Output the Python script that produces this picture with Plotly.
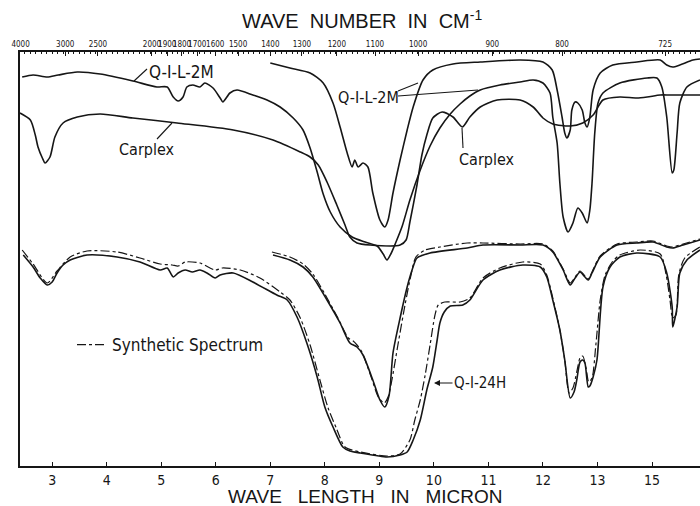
import plotly.graph_objects as go

# ---- spectra: wavelength (micron) vs. transmittance (chart units) ----
qil_thick_wl = [2.45, 2.65, 2.91, 3.11, 3.46, 3.88, 4.48, 4.92, 5.11, 5.22, 5.31, 5.40, 5.47, 5.58, 5.71, 5.80,
                5.95, 6.08, 6.13, 6.26, 6.39, 6.68, 6.94, 7.18, 7.42, 7.60, 7.73, 7.86, 7.97, 8.10, 8.28, 8.50,
                8.74, 8.96, 9.07, 9.14, 9.21, 9.29, 9.42, 9.56, 9.75, 9.93, 10.11, 10.30, 10.48, 10.66, 10.85,
                11.21, 11.58, 11.82, 12.00, 12.13, 12.18, 12.26, 12.31, 12.37, 12.46, 12.55, 12.64, 12.72, 12.81,
                12.86, 12.90, 12.95, 13.01, 13.10, 13.41, 13.91, 14.09, 14.18, 14.27, 14.37, 14.40, 14.46, 14.51,
                14.64, 14.88]
qil_thick_t = [97.25, 97.75, 97.25, 97.75, 98.5, 98.0, 96.25, 94.75, 94.75, 92.25, 91.25, 92.25, 94.75, 95.25, 94.75,
               95.75, 94.5, 92.0, 91.0, 93.25, 94.0, 92.75, 91.5, 89.75, 87.0, 84.0, 79.5, 73.5, 68.0, 63.5, 59.75,
               57.25, 56.0, 55.0, 53.0, 51.5, 53.0, 55.5, 60.0, 66.5, 74.0, 80.0, 84.5, 88.0, 90.5, 92.5, 94.0,
               95.25, 96.0, 96.5, 95.75, 93.25, 87.25, 80.75, 70.75, 62.25, 58.5, 60.75, 64.5, 63.25, 60.75,
               64.0, 70.75, 83.25, 90.75, 93.25, 95.75, 97.0, 97.0, 94.75, 87.25, 73.25, 74.0, 83.25, 90.75,
               94.75, 96.5]

qil_thin_wl = [7.00, 7.36, 7.73, 7.97, 8.15, 8.28, 8.41, 8.50, 8.55, 8.61, 8.70, 8.79, 8.88, 9.01, 9.10, 9.16,
               9.25, 9.38, 9.51, 9.62, 9.80, 9.98, 10.35, 10.85, 11.58, 12.00, 12.17, 12.26, 12.35, 12.40, 12.44,
               12.50, 12.53, 12.59, 12.64, 12.72, 12.77, 12.81, 12.86, 12.92, 13.05, 13.28, 13.72, 14.15, 14.27,
               14.38, 14.51, 14.75, 14.88]
qil_thin_t = [100.75, 99.5, 98.25, 95.75, 90.75, 84.75, 78.25, 74.75, 76.5, 74.75, 75.75, 74.75, 68.25, 61.5,
              59.75, 61.5, 68.25, 76.5, 84.0, 89.75, 96.5, 99.0, 100.5, 101.0, 101.5, 101.0, 99.0, 94.0, 87.25,
              83.25, 82.0, 84.0, 89.0, 91.0, 90.75, 89.0, 85.75, 84.75, 87.25, 94.0, 98.25, 100.25, 101.0, 101.5,
              100.25, 99.75, 100.25, 101.5, 101.75]

carplex_wl = [2.41, 2.60, 2.69, 2.74, 2.82, 2.87, 2.96, 3.05, 3.20, 3.46, 3.88, 4.48, 5.29, 6.32, 7.05, 7.55,
              7.73, 7.88, 8.04, 8.22, 8.37, 8.46, 8.59, 8.83, 9.38, 9.49, 9.56, 9.69, 9.78, 9.87, 9.98, 10.15,
              10.35, 10.52, 10.66, 10.85, 11.16, 11.58, 11.82, 12.00, 12.18, 12.50, 12.73, 12.92, 13.10, 13.41,
              13.72, 13.91, 14.15, 14.33, 14.88]
carplex_t = [88.25, 86.5, 82.75, 79.75, 77.0, 75.75, 77.25, 82.25, 85.75, 87.25, 88.0, 87.0, 85.75, 84.0, 81.5,
             78.5, 77.25, 75.25, 71.0, 65.25, 60.25, 57.25, 55.75, 55.25, 55.25, 56.5, 61.0, 70.25, 77.75, 82.75,
             87.0, 88.5, 87.25, 84.75, 87.25, 89.75, 91.5, 91.5, 89.75, 87.0, 85.5, 85.0, 85.75, 87.75, 91.5,
             92.25, 92.0, 92.25, 92.75, 92.75, 92.75]

q24h_wl = [2.47, 2.65, 2.78, 2.91, 3.00, 3.09, 3.20, 3.33, 3.64, 4.19, 4.61, 4.98, 5.11, 5.22, 5.31, 5.44, 5.57,
           5.71, 5.84, 5.99, 6.08, 6.32, 6.68, 7.12, 7.31, 7.49, 7.67, 7.86, 8.00, 8.15, 8.33, 8.46, 8.65, 9.14,
           9.38, 9.51, 9.62, 9.75, 9.87, 9.98, 10.06, 10.11, 10.19, 10.30, 10.53, 10.66, 10.90, 11.21, 11.63,
           11.95, 12.07, 12.18, 12.31, 12.40, 12.50, 12.57, 12.62, 12.68, 12.73, 12.77, 12.83, 12.86, 12.92,
           12.99, 13.10, 13.23, 13.41, 13.72, 14.15, 14.27, 14.37, 14.38, 14.46, 14.51, 14.64, 14.88]
q24h_t = [52.75, 49.75, 47.0, 45.25, 46.0, 48.25, 50.25, 51.5, 52.75, 52.25, 51.0, 49.0, 49.5, 47.25, 48.25, 49.0,
          48.5, 49.0, 48.25, 47.0, 47.75, 48.25, 46.0, 42.75, 41.5, 37.25, 30.75, 22.25, 14.75, 9.75, 4.75, 3.75,
          3.25, 2.25, 2.75, 3.5, 6.5, 11.5, 19.0, 24.75, 31.5, 35.75, 38.5, 40.0, 40.25, 41.5, 46.5, 49.0, 50.25,
          49.75, 47.25, 41.5, 34.0, 26.5, 17.0, 18.5, 21.5, 26.0, 26.5, 25.75, 19.75, 20.0, 22.25, 26.5, 44.75,
          49.75, 52.25, 53.25, 52.25, 48.25, 39.75, 34.75, 39.75, 48.25, 51.5, 54.0]

film_wl = [7.05, 7.36, 7.60, 7.78, 8.04, 8.28, 8.46, 8.59, 8.70, 8.88, 9.01, 9.10, 9.18, 9.25, 9.38, 9.51, 9.60,
           9.69, 9.93, 10.61, 10.90, 11.58, 12.00, 12.18, 12.37, 12.50, 12.59, 12.68, 12.77, 12.83, 12.90, 13.05,
           13.36, 13.72, 14.02, 14.27, 14.38, 14.57, 14.88]
film_t = [52.75, 51.5, 49.75, 47.25, 41.5, 35.75, 30.75, 29.75, 27.75, 21.5, 16.5, 14.75, 17.75, 28.25, 37.0,
          44.75, 49.0, 52.0, 53.25, 54.5, 55.25, 55.25, 55.25, 53.5, 49.0, 45.25, 47.0, 48.5, 47.25, 46.5, 48.25,
          52.25, 55.25, 55.75, 56.0, 54.75, 54.5, 55.25, 56.5]

syn_q24h_wl = [2.45, 2.65, 2.91, 3.09, 3.33, 3.64, 4.19, 4.61, 4.98, 5.20, 5.31, 5.44, 5.71, 5.99, 6.12, 6.45,
               6.81, 7.18, 7.36, 7.55, 7.73, 7.91, 8.06, 8.21, 8.37, 8.65, 9.14, 9.38, 9.56, 9.65, 9.75, 9.84,
               9.93, 10.02, 10.08, 10.20, 10.48, 10.66, 10.90, 11.21, 11.63, 11.95, 12.07, 12.18, 12.31, 12.40,
               12.48, 12.55, 12.62, 12.68, 12.73, 12.79, 12.84, 12.90, 12.97, 13.05, 13.14, 13.27, 13.41, 13.78,
               14.15, 14.26, 14.33, 14.38, 14.44, 14.49, 14.60, 14.88]
syn_q24h_t = [54.0, 50.5, 45.75, 48.75, 52.25, 53.75, 53.5, 52.0, 50.5, 50.25, 50.0, 51.0, 50.75, 49.0, 49.5, 49.0,
              47.0, 43.5, 41.5, 37.0, 30.25, 21.5, 14.5, 9.5, 4.75, 3.5, 2.5, 3.0, 6.5, 11.5, 16.5, 22.75, 30.25,
              37.75, 40.25, 41.0, 41.0, 42.0, 47.0, 49.5, 51.0, 50.5, 47.75, 42.0, 34.0, 26.5, 18.25, 19.5, 23.5,
              27.0, 27.5, 24.5, 21.0, 22.0, 30.25, 41.5, 47.75, 51.0, 52.75, 54.0, 53.0, 47.75, 41.5, 37.0, 37.75,
              47.75, 52.0, 54.75]

syn_film_wl = [7.03, 7.36, 7.60, 7.78, 8.00, 8.24, 8.43, 8.52, 8.59, 8.68, 8.85, 8.98, 9.09, 9.16, 9.23, 9.34,
               9.47, 9.58, 9.67, 9.84, 10.11, 10.61, 10.90, 11.58, 12.00, 12.18, 12.37, 12.50, 12.59, 12.68, 12.77,
               12.83, 12.90, 13.05, 13.36, 13.72, 14.02, 14.27, 14.38, 14.57, 14.88]
syn_film_t = [53.5, 52.25, 50.5, 48.0, 43.0, 37.0, 32.0, 31.25, 30.25, 28.5, 22.25, 17.25, 15.75, 17.25, 21.5,
              30.25, 40.25, 47.75, 52.25, 54.0, 54.75, 55.75, 55.75, 55.5, 55.5, 53.75, 49.25, 45.75, 47.25, 48.75,
              47.5, 46.75, 48.5, 52.5, 55.5, 56.0, 56.25, 55.0, 54.75, 55.5, 56.75]

# ---- axis tick labels ----
micron_ticks = [3, 4, 5, 6, 7, 8, 9, 10, 11, 12, 13, 14]
micron_labels = ["3", "4", "5", "6", "7", "8", "9", "10", "11", "12", "13", "15"]
wavenumber_pos = [2.42, 3.24, 3.84, 4.83, 5.11, 5.38, 5.66, 5.99, 6.41, 7.00, 7.58, 8.22, 8.92, 9.71, 11.07,
                  12.35, 14.24]
wavenumber_labels = ["4000", "3000", "2500", "2000", "1900", "1800", "1700", "1600", "1500", "1400", "1300",
                     "1200", "1100", "1000", "900", "800", "725"]

INK = "#161616"
NARROW = "Liberation Sans Narrow, DejaVu Sans Condensed, Arial Narrow, sans-serif"
WIDE = "Liberation Sans, DejaVu Sans, Arial, sans-serif"
XR = [2.41, 14.88]
YR = [0, 103.5]

W, H = 700, 506
ML, MR, MT, MB = 20, 0, 52, 40


def px(x):
    return (x - ML) / (W - ML - MR)


def py(y):
    return (H - MB - y) / (H - MT - MB)


fig = go.Figure()


def solid(x, y, name):
    fig.add_trace(go.Scatter(x=x, y=y, mode="lines", name=name, showlegend=False,
                             line=dict(color=INK, width=1.6, shape="spline", smoothing=0.7),
                             hoverinfo="skip"))


def dashdot(x, y, name, legend=False):
    fig.add_trace(go.Scatter(x=x, y=y, mode="lines", name=name, showlegend=legend,
                             line=dict(color=INK, width=1.2, dash="dashdot", shape="spline", smoothing=0.7),
                             hoverinfo="skip"))


solid(qil_thick_wl, qil_thick_t, "Q-I-L-2M")
solid(qil_thin_wl, qil_thin_t, "Q-I-L-2M thin")
solid(carplex_wl, carplex_t, "Carplex")
dashdot(syn_q24h_wl, syn_q24h_t, "Synthetic Spectrum", legend=True)
dashdot(syn_film_wl, syn_film_t, "Synthetic Spectrum (film)")
solid(q24h_wl, q24h_t, "Q-I-24H")
solid(film_wl, film_t, "Q-I-24H film")

# companion trace carrying the wavenumber axis
fig.add_trace(go.Scatter(x=XR, y=[None, None], xaxis="x2", mode="lines", showlegend=False, hoverinfo="skip"))

annotations = [
    dict(text="WAVE  NUMBER  IN  CM<sup>-1</sup>", x=px(362), y=py(19), font=dict(family=WIDE, size=20)),
    dict(text="WAVE   LENGTH   IN   MICRON", x=px(365), y=py(496), font=dict(family=WIDE, size=19)),
    dict(text="Q-I-L-2M", x=px(147), y=py(72), xanchor="left", font=dict(family=NARROW, size=17)),
    dict(text="Carplex", x=px(117), y=py(149), xanchor="left", font=dict(family=NARROW, size=16)),
    dict(text="Q-I-L-2M", x=px(336), y=py(97), xanchor="left", font=dict(family=NARROW, size=16)),
    dict(text="Carplex", x=px(457), y=py(159), xanchor="left", font=dict(family=NARROW, size=16)),
]
for a in annotations:
    a.update(xref="paper", yref="paper", showarrow=False, yanchor="middle",
             xanchor=a.get("xanchor", "center"))
    a["font"]["color"] = INK

annotations.append(dict(text="Q-I-24H", x=px(434), y=py(383), xref="paper", yref="paper",
                        ax=46, ay=0, showarrow=True, arrowhead=2, arrowsize=1, arrowwidth=1.2,
                        arrowcolor=INK, font=dict(family=NARROW, size=15, color=INK)))

leaders = [((134, 81), (147, 69)), ((157, 139), (172, 123)), ((398, 91), (418, 83)),
           ((398, 96), (478, 90)), ((463, 148), (462, 128))]
shapes = [dict(type="line", xref="paper", yref="paper", x0=px(a[0]), y0=py(a[1]), x1=px(b[0]), y1=py(b[1]),
               line=dict(color=INK, width=1.1)) for a, b in leaders]

fig.update_layout(
    width=W, height=H,
    margin=dict(l=ML, r=MR, t=MT, b=MB),
    paper_bgcolor="white", plot_bgcolor="white",
    annotations=annotations, shapes=shapes,
    legend=dict(x=px(72), y=py(345), xanchor="left", yanchor="middle", bgcolor="rgba(0,0,0,0)",
                font=dict(family=NARROW, size=17, color=INK), itemwidth=30),
    xaxis=dict(range=XR, tickvals=micron_ticks, ticktext=micron_labels, showgrid=False, zeroline=False,
               showline=True, linecolor=INK, linewidth=1.5, ticks="inside", ticklen=4, tickcolor=INK,
               tickfont=dict(family=NARROW, size=14, color=INK), ticklabelstandoff=0, tickangle=0),
    xaxis2=dict(range=XR, overlaying="x", side="top", tickvals=wavenumber_pos, ticktext=wavenumber_labels,
                showgrid=False, zeroline=False, showline=True, linecolor=INK, linewidth=1.5,
                ticks="inside", ticklen=4, tickcolor=INK, tickangle=0,
                minor=dict(dtick=0.1, ticks="inside", ticklen=2, tickcolor=INK),
                tickfont=dict(family=NARROW, size=8, color=INK)),
    yaxis=dict(range=YR, showgrid=False, zeroline=False, showticklabels=False, showline=True,
               linecolor=INK, linewidth=1.5, ticks=""),
)

fig.write_html("out.html")
